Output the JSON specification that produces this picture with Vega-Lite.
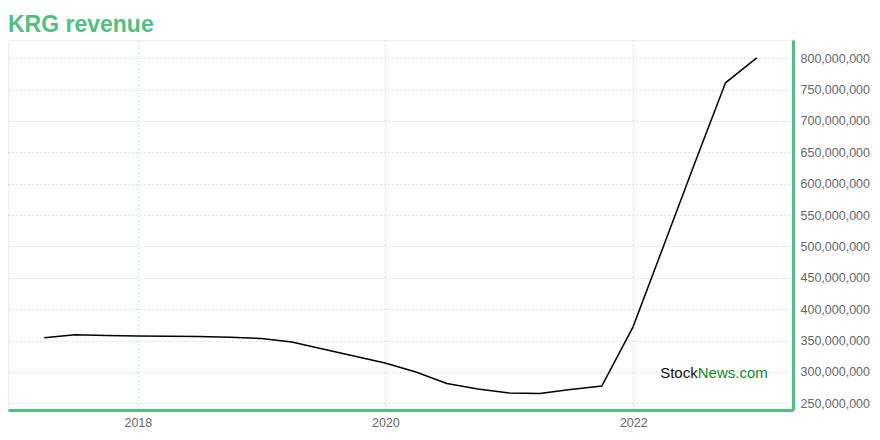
{
  "$schema": "https://vega.github.io/schema/vega-lite/v6.json",
  "width": 785,
  "height": 370,
  "autosize": {"type": "none"},
  "padding": {"left": 8, "top": 40, "right": 87, "bottom": 30},
  "background": "white",
  "title": {
    "text": "KRG revenue",
    "anchor": "start",
    "frame": "group",
    "color": "#52be80",
    "font": "Liberation Sans",
    "fontSize": 23,
    "fontWeight": "bold",
    "offset": 3
  },
  "config": {
    "view": {"stroke": "#eeeeee"},
    "axis": {
      "labelFont": "Liberation Sans",
      "labelFontSize": 12.5,
      "labelColor": "#666666",
      "labelOverlap": false,
      "labelFlush": false,
      "domainColor": "#52be80",
      "domainWidth": 3,
      "ticks": false,
      "grid": true,
      "gridColor": "#9ed9b5",
      "gridDash": [1, 3],
      "gridWidth": 1,
      "title": null
    }
  },
  "layer": [
    {
      "data": {
        "values": [
          {"date": "2017-03-31", "value": 354400000},
          {"date": "2017-06-30", "value": 359300000},
          {"date": "2017-09-30", "value": 357900000},
          {"date": "2017-12-31", "value": 357300000},
          {"date": "2018-03-31", "value": 357000000},
          {"date": "2018-06-30", "value": 356300000},
          {"date": "2018-09-30", "value": 355300000},
          {"date": "2018-12-31", "value": 353300000},
          {"date": "2019-03-31", "value": 347500000},
          {"date": "2019-06-30", "value": 336400000},
          {"date": "2019-09-30", "value": 325300000},
          {"date": "2019-12-31", "value": 314100000},
          {"date": "2020-03-31", "value": 299800000},
          {"date": "2020-06-30", "value": 281500000},
          {"date": "2020-09-30", "value": 272800000},
          {"date": "2020-12-31", "value": 266400000},
          {"date": "2021-03-31", "value": 265600000},
          {"date": "2021-06-30", "value": 272000000},
          {"date": "2021-09-30", "value": 277500000},
          {"date": "2021-12-31", "value": 371400000},
          {"date": "2022-03-31", "value": 500300000},
          {"date": "2022-06-30", "value": 630800000},
          {"date": "2022-09-30", "value": 760800000},
          {"date": "2022-12-31", "value": 800500000}
        ]
      },
      "mark": {"type": "line", "color": "black", "strokeWidth": 1.5, "interpolate": "linear"},
      "encoding": {
        "x": {
          "field": "date",
          "type": "temporal",
          "scale": {
            "type": "utc",
            "domain": [
              {"year": 2016, "month": 12, "date": 14, "utc": true},
              {"year": 2023, "month": 4, "date": 17, "utc": true}
            ]
          },
          "axis": {
            "orient": "bottom",
            "format": "%Y",
            "labelPadding": 6,
            "values": [
              {"year": 2018, "month": 1, "date": 1, "utc": true},
              {"year": 2020, "month": 1, "date": 1, "utc": true},
              {"year": 2022, "month": 1, "date": 1, "utc": true}
            ]
          }
        },
        "y": {
          "field": "value",
          "type": "quantitative",
          "scale": {"domain": [239300000, 829000000], "zero": false, "nice": false},
          "axis": {
            "orient": "right",
            "format": ",.0f",
            "labelPadding": 7,
            "labelAlign": "left",
            "values": [250000000, 300000000, 350000000, 400000000, 450000000, 500000000, 550000000, 600000000, 650000000, 700000000, 750000000, 800000000]
          }
        }
      }
    },
    {
      "data": {"values": [{"date": "2022-07-10", "value": 297500000, "a": "Stock", "b": "News.com"}]},
      "encoding": {
        "x": {
          "field": "date",
          "type": "temporal",
          "axis": {
            "orient": "bottom",
            "format": "%Y",
            "labelPadding": 6,
            "values": [
              {"year": 2018, "month": 1, "date": 1, "utc": true},
              {"year": 2020, "month": 1, "date": 1, "utc": true},
              {"year": 2022, "month": 1, "date": 1, "utc": true}
            ]
          }
        },
        "y": {
          "field": "value",
          "type": "quantitative",
          "axis": {
            "orient": "right",
            "format": ",.0f",
            "labelPadding": 7,
            "labelAlign": "left",
            "values": [250000000, 300000000, 350000000, 400000000, 450000000, 500000000, 550000000, 600000000, 650000000, 700000000, 750000000, 800000000]
          }
        }
      },
      "layer": [
        {
          "mark": {"type": "text", "align": "right", "baseline": "middle", "font": "Liberation Sans", "fontSize": 15, "color": "#111111"},
          "encoding": {"text": {"field": "a"}}
        },
        {
          "mark": {"type": "text", "align": "left", "baseline": "middle", "font": "Liberation Sans", "fontSize": 15, "color": "#128a2c"},
          "encoding": {"text": {"field": "b"}}
        }
      ]
    }
  ]
}
